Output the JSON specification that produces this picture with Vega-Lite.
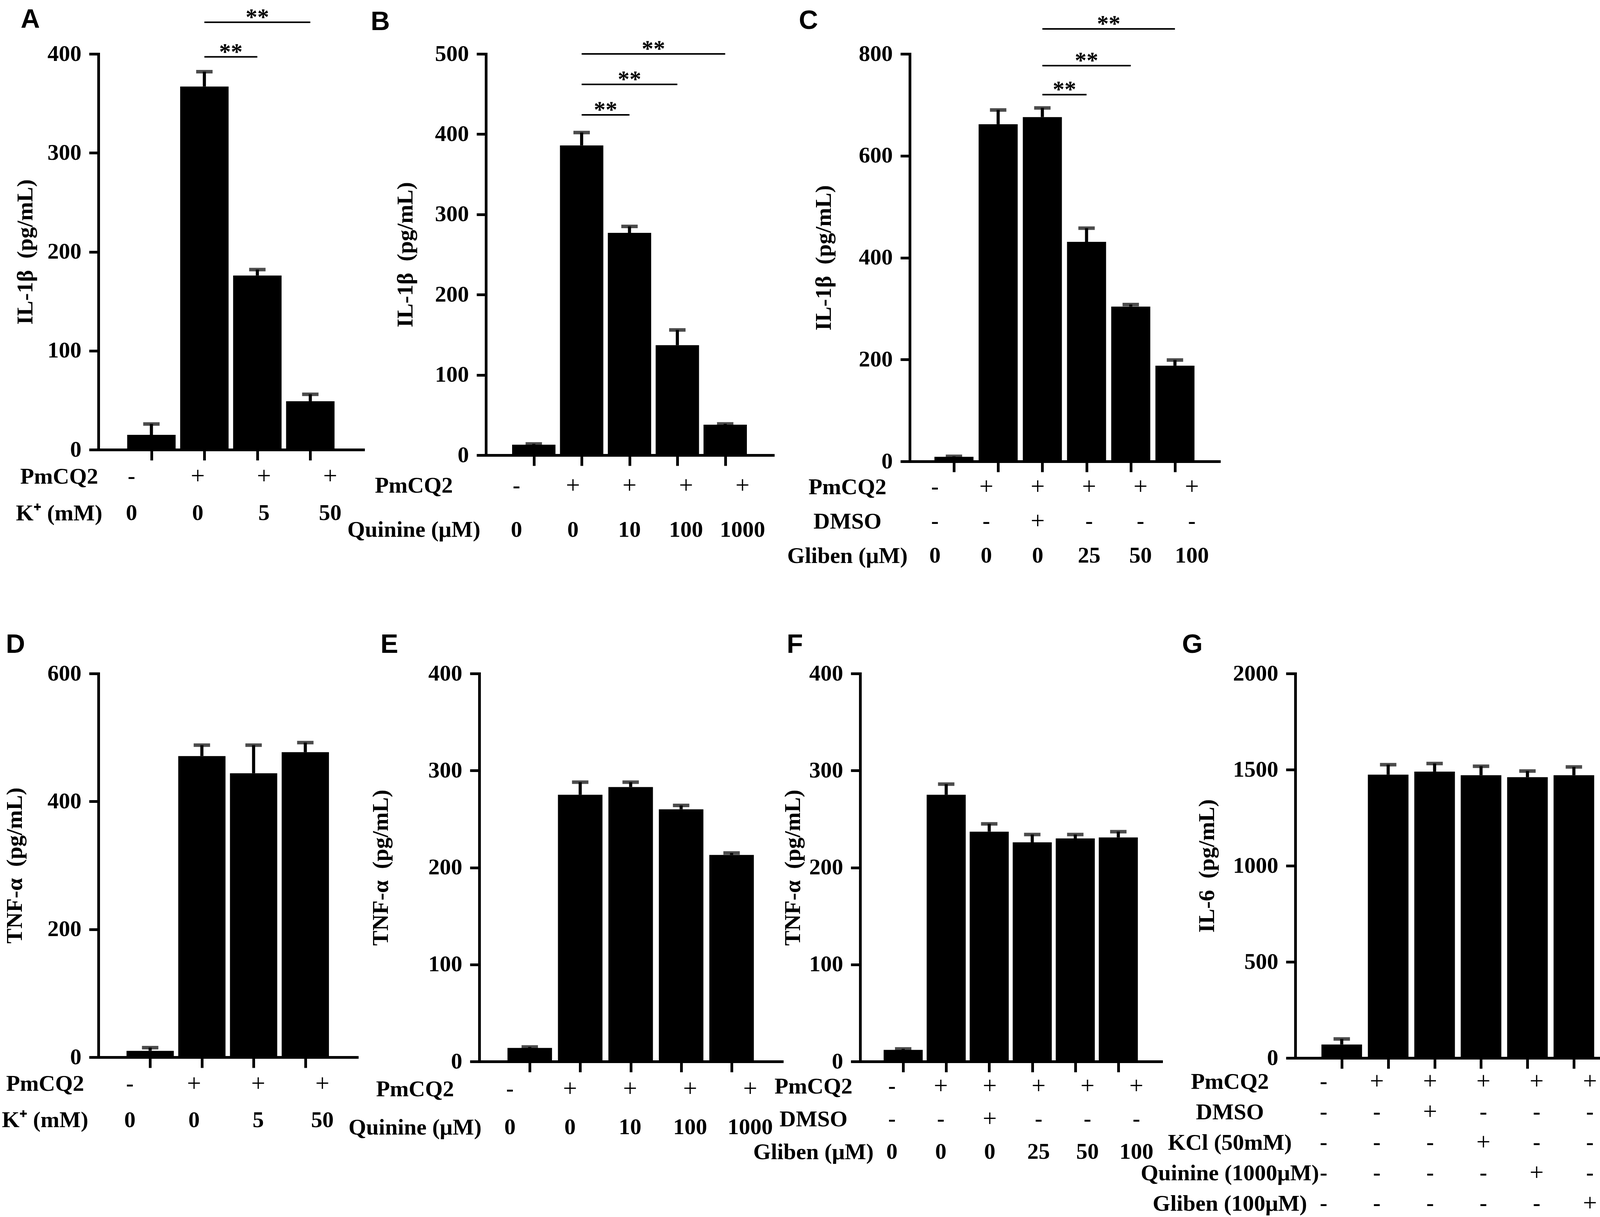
{
  "$schema": "https://vega.github.io/schema/vega-lite/v6.json",
  "background": "white",
  "padding": {"left": 4, "top": 14, "right": 0, "bottom": 0},
  "datasets": {
    "bars": [
      {"panel": "A", "pos": 1, "mean": 15, "upper": 26},
      {"panel": "A", "pos": 2, "mean": 367, "upper": 382},
      {"panel": "A", "pos": 3, "mean": 176, "upper": 182},
      {"panel": "A", "pos": 4, "mean": 49, "upper": 56},
      {"panel": "B", "pos": 1, "mean": 13, "upper": 14},
      {"panel": "B", "pos": 2, "mean": 386, "upper": 402},
      {"panel": "B", "pos": 3, "mean": 277, "upper": 285},
      {"panel": "B", "pos": 4, "mean": 137, "upper": 156},
      {"panel": "B", "pos": 5, "mean": 38, "upper": 39},
      {"panel": "C", "pos": 1, "mean": 9, "upper": 10},
      {"panel": "C", "pos": 2, "mean": 662, "upper": 690},
      {"panel": "C", "pos": 3, "mean": 676, "upper": 694},
      {"panel": "C", "pos": 4, "mean": 431, "upper": 458},
      {"panel": "C", "pos": 5, "mean": 304, "upper": 308},
      {"panel": "C", "pos": 6, "mean": 188, "upper": 199},
      {"panel": "D", "pos": 1, "mean": 10, "upper": 15},
      {"panel": "D", "pos": 2, "mean": 471, "upper": 488},
      {"panel": "D", "pos": 3, "mean": 444, "upper": 488},
      {"panel": "D", "pos": 4, "mean": 477, "upper": 492},
      {"panel": "E", "pos": 1, "mean": 14, "upper": 15},
      {"panel": "E", "pos": 2, "mean": 275, "upper": 288},
      {"panel": "E", "pos": 3, "mean": 283, "upper": 288},
      {"panel": "E", "pos": 4, "mean": 260, "upper": 264},
      {"panel": "E", "pos": 5, "mean": 213, "upper": 215},
      {"panel": "F", "pos": 1, "mean": 12, "upper": 13},
      {"panel": "F", "pos": 2, "mean": 275, "upper": 286},
      {"panel": "F", "pos": 3, "mean": 237, "upper": 245},
      {"panel": "F", "pos": 4, "mean": 226, "upper": 234},
      {"panel": "F", "pos": 5, "mean": 230, "upper": 234},
      {"panel": "F", "pos": 6, "mean": 231, "upper": 237},
      {"panel": "G", "pos": 1, "mean": 70, "upper": 99},
      {"panel": "G", "pos": 2, "mean": 1474, "upper": 1526},
      {"panel": "G", "pos": 3, "mean": 1490, "upper": 1532},
      {"panel": "G", "pos": 4, "mean": 1471, "upper": 1518},
      {"panel": "G", "pos": 5, "mean": 1461, "upper": 1493},
      {"panel": "G", "pos": 6, "mean": 1471, "upper": 1514}
    ],
    "sig": [
      {"panel": "A", "from": 2, "to": 3, "level": 397},
      {"panel": "A", "from": 2, "to": 4, "level": 432},
      {"panel": "B", "from": 2, "to": 3, "level": 424},
      {"panel": "B", "from": 2, "to": 4, "level": 462},
      {"panel": "B", "from": 2, "to": 5, "level": 500},
      {"panel": "C", "from": 3, "to": 4, "level": 720},
      {"panel": "C", "from": 3, "to": 5, "level": 777},
      {"panel": "C", "from": 3, "to": 6, "level": 849}
    ],
    "tbl": [
      {"panel": "A", "row": "PmCQ2", "pos": 1, "val": "-"},
      {"panel": "A", "row": "PmCQ2", "pos": 2, "val": "+"},
      {"panel": "A", "row": "PmCQ2", "pos": 3, "val": "+"},
      {"panel": "A", "row": "PmCQ2", "pos": 4, "val": "+"},
      {"panel": "A", "row": "K⁺ (mM)", "pos": 1, "val": "0"},
      {"panel": "A", "row": "K⁺ (mM)", "pos": 2, "val": "0"},
      {"panel": "A", "row": "K⁺ (mM)", "pos": 3, "val": "5"},
      {"panel": "A", "row": "K⁺ (mM)", "pos": 4, "val": "50"},
      {"panel": "B", "row": "PmCQ2", "pos": 1, "val": "-"},
      {"panel": "B", "row": "PmCQ2", "pos": 2, "val": "+"},
      {"panel": "B", "row": "PmCQ2", "pos": 3, "val": "+"},
      {"panel": "B", "row": "PmCQ2", "pos": 4, "val": "+"},
      {"panel": "B", "row": "PmCQ2", "pos": 5, "val": "+"},
      {"panel": "B", "row": "Quinine (μM)", "pos": 1, "val": "0"},
      {"panel": "B", "row": "Quinine (μM)", "pos": 2, "val": "0"},
      {"panel": "B", "row": "Quinine (μM)", "pos": 3, "val": "10"},
      {"panel": "B", "row": "Quinine (μM)", "pos": 4, "val": "100"},
      {"panel": "B", "row": "Quinine (μM)", "pos": 5, "val": "1000"},
      {"panel": "C", "row": "PmCQ2", "pos": 1, "val": "-"},
      {"panel": "C", "row": "PmCQ2", "pos": 2, "val": "+"},
      {"panel": "C", "row": "PmCQ2", "pos": 3, "val": "+"},
      {"panel": "C", "row": "PmCQ2", "pos": 4, "val": "+"},
      {"panel": "C", "row": "PmCQ2", "pos": 5, "val": "+"},
      {"panel": "C", "row": "PmCQ2", "pos": 6, "val": "+"},
      {"panel": "C", "row": "DMSO", "pos": 1, "val": "-"},
      {"panel": "C", "row": "DMSO", "pos": 2, "val": "-"},
      {"panel": "C", "row": "DMSO", "pos": 3, "val": "+"},
      {"panel": "C", "row": "DMSO", "pos": 4, "val": "-"},
      {"panel": "C", "row": "DMSO", "pos": 5, "val": "-"},
      {"panel": "C", "row": "DMSO", "pos": 6, "val": "-"},
      {"panel": "C", "row": "Gliben (μM)", "pos": 1, "val": "0"},
      {"panel": "C", "row": "Gliben (μM)", "pos": 2, "val": "0"},
      {"panel": "C", "row": "Gliben (μM)", "pos": 3, "val": "0"},
      {"panel": "C", "row": "Gliben (μM)", "pos": 4, "val": "25"},
      {"panel": "C", "row": "Gliben (μM)", "pos": 5, "val": "50"},
      {"panel": "C", "row": "Gliben (μM)", "pos": 6, "val": "100"},
      {"panel": "D", "row": "PmCQ2", "pos": 1, "val": "-"},
      {"panel": "D", "row": "PmCQ2", "pos": 2, "val": "+"},
      {"panel": "D", "row": "PmCQ2", "pos": 3, "val": "+"},
      {"panel": "D", "row": "PmCQ2", "pos": 4, "val": "+"},
      {"panel": "D", "row": "K⁺ (mM)", "pos": 1, "val": "0"},
      {"panel": "D", "row": "K⁺ (mM)", "pos": 2, "val": "0"},
      {"panel": "D", "row": "K⁺ (mM)", "pos": 3, "val": "5"},
      {"panel": "D", "row": "K⁺ (mM)", "pos": 4, "val": "50"},
      {"panel": "E", "row": "PmCQ2", "pos": 1, "val": "-"},
      {"panel": "E", "row": "PmCQ2", "pos": 2, "val": "+"},
      {"panel": "E", "row": "PmCQ2", "pos": 3, "val": "+"},
      {"panel": "E", "row": "PmCQ2", "pos": 4, "val": "+"},
      {"panel": "E", "row": "PmCQ2", "pos": 5, "val": "+"},
      {"panel": "E", "row": "Quinine (μM)", "pos": 1, "val": "0"},
      {"panel": "E", "row": "Quinine (μM)", "pos": 2, "val": "0"},
      {"panel": "E", "row": "Quinine (μM)", "pos": 3, "val": "10"},
      {"panel": "E", "row": "Quinine (μM)", "pos": 4, "val": "100"},
      {"panel": "E", "row": "Quinine (μM)", "pos": 5, "val": "1000"},
      {"panel": "F", "row": "PmCQ2", "pos": 1, "val": "-"},
      {"panel": "F", "row": "PmCQ2", "pos": 2, "val": "+"},
      {"panel": "F", "row": "PmCQ2", "pos": 3, "val": "+"},
      {"panel": "F", "row": "PmCQ2", "pos": 4, "val": "+"},
      {"panel": "F", "row": "PmCQ2", "pos": 5, "val": "+"},
      {"panel": "F", "row": "PmCQ2", "pos": 6, "val": "+"},
      {"panel": "F", "row": "DMSO", "pos": 1, "val": "-"},
      {"panel": "F", "row": "DMSO", "pos": 2, "val": "-"},
      {"panel": "F", "row": "DMSO", "pos": 3, "val": "+"},
      {"panel": "F", "row": "DMSO", "pos": 4, "val": "-"},
      {"panel": "F", "row": "DMSO", "pos": 5, "val": "-"},
      {"panel": "F", "row": "DMSO", "pos": 6, "val": "-"},
      {"panel": "F", "row": "Gliben (μM)", "pos": 1, "val": "0"},
      {"panel": "F", "row": "Gliben (μM)", "pos": 2, "val": "0"},
      {"panel": "F", "row": "Gliben (μM)", "pos": 3, "val": "0"},
      {"panel": "F", "row": "Gliben (μM)", "pos": 4, "val": "25"},
      {"panel": "F", "row": "Gliben (μM)", "pos": 5, "val": "50"},
      {"panel": "F", "row": "Gliben (μM)", "pos": 6, "val": "100"},
      {"panel": "G", "row": "PmCQ2", "pos": 1, "val": "-"},
      {"panel": "G", "row": "PmCQ2", "pos": 2, "val": "+"},
      {"panel": "G", "row": "PmCQ2", "pos": 3, "val": "+"},
      {"panel": "G", "row": "PmCQ2", "pos": 4, "val": "+"},
      {"panel": "G", "row": "PmCQ2", "pos": 5, "val": "+"},
      {"panel": "G", "row": "PmCQ2", "pos": 6, "val": "+"},
      {"panel": "G", "row": "DMSO", "pos": 1, "val": "-"},
      {"panel": "G", "row": "DMSO", "pos": 2, "val": "-"},
      {"panel": "G", "row": "DMSO", "pos": 3, "val": "+"},
      {"panel": "G", "row": "DMSO", "pos": 4, "val": "-"},
      {"panel": "G", "row": "DMSO", "pos": 5, "val": "-"},
      {"panel": "G", "row": "DMSO", "pos": 6, "val": "-"},
      {"panel": "G", "row": "KCl (50mM)", "pos": 1, "val": "-"},
      {"panel": "G", "row": "KCl (50mM)", "pos": 2, "val": "-"},
      {"panel": "G", "row": "KCl (50mM)", "pos": 3, "val": "-"},
      {"panel": "G", "row": "KCl (50mM)", "pos": 4, "val": "+"},
      {"panel": "G", "row": "KCl (50mM)", "pos": 5, "val": "-"},
      {"panel": "G", "row": "KCl (50mM)", "pos": 6, "val": "-"},
      {"panel": "G", "row": "Quinine (1000μM)", "pos": 1, "val": "-"},
      {"panel": "G", "row": "Quinine (1000μM)", "pos": 2, "val": "-"},
      {"panel": "G", "row": "Quinine (1000μM)", "pos": 3, "val": "-"},
      {"panel": "G", "row": "Quinine (1000μM)", "pos": 4, "val": "-"},
      {"panel": "G", "row": "Quinine (1000μM)", "pos": 5, "val": "+"},
      {"panel": "G", "row": "Quinine (1000μM)", "pos": 6, "val": "-"},
      {"panel": "G", "row": "Gliben (100μM)", "pos": 1, "val": "-"},
      {"panel": "G", "row": "Gliben (100μM)", "pos": 2, "val": "-"},
      {"panel": "G", "row": "Gliben (100μM)", "pos": 3, "val": "-"},
      {"panel": "G", "row": "Gliben (100μM)", "pos": 4, "val": "-"},
      {"panel": "G", "row": "Gliben (100μM)", "pos": 5, "val": "-"},
      {"panel": "G", "row": "Gliben (100μM)", "pos": 6, "val": "+"}
    ]
  },
  "align": "each",
  "spacing": 150,
  "vconcat": [
    {
      "align": "each",
      "spacing": 35,
      "hconcat": [
        {
          "align": "each",
          "spacing": -42,
          "hconcat": [
            {
              "align": "each", "bounds": "flush", "spacing": 22,
              "vconcat": [
                {
                  "width": 678, "height": 1013,
                  "title": {"text": "A", "offset": -70, "dx": 17},
                  "layer": [
                    {"data": {"name": "bars"}, "transform": [{"filter": "datum.panel === 'A'"}],
                     "mark": {"type": "bar", "color": "black", "size": 124},
                     "encoding": {
                       "x": {"field": "pos", "type": "quantitative", "scale": {"domain": [0.5, 4.5]}, "axis": {"values": [1, 2, 3, 4], "labels": false, "title": null}},
                       "y": {"field": "mean", "type": "quantitative", "scale": {"domain": [0, 400], "nice": false}, "axis": {"values": [0, 100, 200, 300, 400], "title": "IL-1β\u00a0\u00a0(pg/mL)", "titlePadding": 27}}
                     }},
                    {"data": {"name": "bars"}, "transform": [{"filter": "datum.panel === 'A'"}],
                     "mark": {"type": "rule", "color": "black", "strokeWidth": 8},
                     "encoding": {"x": {"field": "pos", "type": "quantitative"}, "y": {"field": "mean", "type": "quantitative"}, "y2": {"field": "upper"}}},
                    {"data": {"name": "bars"}, "transform": [{"filter": "datum.panel === 'A'"}],
                     "mark": {"type": "tick", "orient": "horizontal", "color": "black", "size": 42, "thickness": 9},
                     "encoding": {"x": {"field": "pos", "type": "quantitative"}, "y": {"field": "upper", "type": "quantitative"}}},
                    {"data": {"name": "sig"}, "transform": [{"filter": "datum.panel === 'A'"}],
                     "mark": {"type": "rule", "color": "black", "strokeWidth": 4},
                     "encoding": {"x": {"field": "from", "type": "quantitative"}, "x2": {"field": "to"}, "y": {"field": "level", "type": "quantitative"}}},
                    {"data": {"name": "sig"}, "transform": [{"filter": "datum.panel === 'A'"}, {"calculate": "(datum.from + datum.to) / 2", "as": "mid"}],
                     "mark": {"type": "text", "text": "**", "font": "Liberation Serif", "fontWeight": "bold", "fontSize": 60, "baseline": "alphabetic", "dy": 6},
                     "encoding": {"x": {"field": "mid", "type": "quantitative"}, "y": {"field": "level", "type": "quantitative"}}}
                  ]
                },
                {
                  "width": 678, "height": 188,
                  "data": {"name": "tbl"}, "transform": [{"filter": "datum.panel === 'A'"}],
                  "encoding": {
                    "x": {"field": "pos", "type": "quantitative", "scale": {"domain": [0.5, 4.5]}, "axis": null},
                    "y": {"field": "row", "type": "nominal", "sort": ["PmCQ2", "K⁺ (mM)"], "scale": {"type": "point", "padding": 0.5}, "axis": {"title": null, "domain": false, "ticks": false, "labelAlign": "center", "labelPadding": 101, "labelFontSize": 58, "labelLimit": 0}},
                    "text": {"field": "val"}
                  },
                  "layer": [
                    {"transform": [{"filter": "datum.val !== '+'"}], "mark": {"type": "text", "font": "Liberation Serif", "fontWeight": "bold", "fontSize": 58, "baseline": "middle"}},
                    {"transform": [{"filter": "datum.val === '+'"}], "mark": {"type": "text", "font": "Liberation Serif", "fontWeight": "normal", "fontSize": 64, "baseline": "middle"}}
                  ]
                }
              ]
            },
            {
              "align": "each", "bounds": "flush", "spacing": 22,
              "vconcat": [
                {
                  "width": 735, "height": 1027,
                  "title": {"text": "B", "offset": 5, "dx": -60},
                  "layer": [
                    {"data": {"name": "bars"}, "transform": [{"filter": "datum.panel === 'B'"}],
                     "mark": {"type": "bar", "color": "black", "size": 111},
                     "encoding": {
                       "x": {"field": "pos", "type": "quantitative", "scale": {"domain": [0.46, 5.54]}, "axis": {"values": [1, 2, 3, 4, 5], "labels": false, "title": null}},
                       "y": {"field": "mean", "type": "quantitative", "scale": {"domain": [0, 500], "nice": false}, "axis": {"values": [0, 100, 200, 300, 400, 500], "title": "IL-1β\u00a0\u00a0(pg/mL)", "titlePadding": 46}}
                     }},
                    {"data": {"name": "bars"}, "transform": [{"filter": "datum.panel === 'B'"}],
                     "mark": {"type": "rule", "color": "black", "strokeWidth": 8},
                     "encoding": {"x": {"field": "pos", "type": "quantitative"}, "y": {"field": "mean", "type": "quantitative"}, "y2": {"field": "upper"}}},
                    {"data": {"name": "bars"}, "transform": [{"filter": "datum.panel === 'B'"}],
                     "mark": {"type": "tick", "orient": "horizontal", "color": "black", "size": 42, "thickness": 9},
                     "encoding": {"x": {"field": "pos", "type": "quantitative"}, "y": {"field": "upper", "type": "quantitative"}}},
                    {"data": {"name": "sig"}, "transform": [{"filter": "datum.panel === 'B'"}],
                     "mark": {"type": "rule", "color": "black", "strokeWidth": 4},
                     "encoding": {"x": {"field": "from", "type": "quantitative"}, "x2": {"field": "to"}, "y": {"field": "level", "type": "quantitative"}}},
                    {"data": {"name": "sig"}, "transform": [{"filter": "datum.panel === 'B'"}, {"calculate": "(datum.from + datum.to) / 2", "as": "mid"}],
                     "mark": {"type": "text", "text": "**", "font": "Liberation Serif", "fontWeight": "bold", "fontSize": 60, "baseline": "alphabetic", "dy": 6},
                     "encoding": {"x": {"field": "mid", "type": "quantitative"}, "y": {"field": "level", "type": "quantitative"}}}
                  ]
                },
                {
                  "width": 735, "height": 226,
                  "data": {"name": "tbl"}, "transform": [{"filter": "datum.panel === 'B'"}],
                  "encoding": {
                    "x": {"field": "pos", "type": "quantitative", "scale": {"domain": [0.46, 5.54]}, "axis": null},
                    "y": {"field": "row", "type": "nominal", "sort": ["PmCQ2", "Quinine (μM)"], "scale": {"type": "point", "padding": 0.5}, "axis": {"title": null, "domain": false, "ticks": false, "labelAlign": "center", "labelPadding": 185, "labelFontSize": 58, "labelLimit": 0}},
                    "text": {"field": "val"}
                  },
                  "layer": [
                    {"transform": [{"filter": "datum.val !== '+'"}], "mark": {"type": "text", "font": "Liberation Serif", "fontWeight": "bold", "fontSize": 58, "baseline": "middle"}},
                    {"transform": [{"filter": "datum.val === '+'"}], "mark": {"type": "text", "font": "Liberation Serif", "fontWeight": "normal", "fontSize": 64, "baseline": "middle"}}
                  ]
                }
              ]
            }
          ]
        },
        {
          "align": "each", "bounds": "flush", "spacing": 22,
          "vconcat": [
            {
              "width": 792, "height": 1043,
              "title": {"text": "C", "offset": -56, "dx": -35},
              "layer": [
                {"data": {"name": "bars"}, "transform": [{"filter": "datum.panel === 'C'"}],
                 "mark": {"type": "bar", "color": "black", "size": 100},
                 "encoding": {
                   "x": {"field": "pos", "type": "quantitative", "scale": {"domain": [0.51, 6.53]}, "axis": {"values": [1, 2, 3, 4, 5, 6], "labels": false, "title": null}},
                   "y": {"field": "mean", "type": "quantitative", "scale": {"domain": [0, 800], "nice": false}, "axis": {"values": [0, 200, 400, 600, 800], "title": "IL-1β\u00a0\u00a0(pg/mL)", "titlePadding": 60}}
                 }},
                {"data": {"name": "bars"}, "transform": [{"filter": "datum.panel === 'C'"}],
                 "mark": {"type": "rule", "color": "black", "strokeWidth": 8},
                 "encoding": {"x": {"field": "pos", "type": "quantitative"}, "y": {"field": "mean", "type": "quantitative"}, "y2": {"field": "upper"}}},
                {"data": {"name": "bars"}, "transform": [{"filter": "datum.panel === 'C'"}],
                 "mark": {"type": "tick", "orient": "horizontal", "color": "black", "size": 42, "thickness": 9},
                 "encoding": {"x": {"field": "pos", "type": "quantitative"}, "y": {"field": "upper", "type": "quantitative"}}},
                {"data": {"name": "sig"}, "transform": [{"filter": "datum.panel === 'C'"}],
                 "mark": {"type": "rule", "color": "black", "strokeWidth": 4},
                 "encoding": {"x": {"field": "from", "type": "quantitative"}, "x2": {"field": "to"}, "y": {"field": "level", "type": "quantitative"}}},
                {"data": {"name": "sig"}, "transform": [{"filter": "datum.panel === 'C'"}, {"calculate": "(datum.from + datum.to) / 2", "as": "mid"}],
                 "mark": {"type": "text", "text": "**", "font": "Liberation Serif", "fontWeight": "bold", "fontSize": 60, "baseline": "alphabetic", "dy": 6},
                 "encoding": {"x": {"field": "mid", "type": "quantitative"}, "y": {"field": "level", "type": "quantitative"}}}
              ]
            },
            {
              "width": 792, "height": 264,
              "data": {"name": "tbl"}, "transform": [{"filter": "datum.panel === 'C'"}],
              "encoding": {
                "x": {"field": "pos", "type": "quantitative", "scale": {"domain": [0.51, 6.53]}, "axis": null},
                "y": {"field": "row", "type": "nominal", "sort": ["PmCQ2", "DMSO", "Gliben (μM)"], "scale": {"type": "point", "padding": 0.5}, "axis": {"title": null, "domain": false, "ticks": false, "labelAlign": "center", "labelPadding": 160, "labelFontSize": 58, "labelLimit": 0}},
                "text": {"field": "val"}
              },
              "layer": [
                {"transform": [{"filter": "datum.val !== '+'"}], "mark": {"type": "text", "font": "Liberation Serif", "fontWeight": "bold", "fontSize": 58, "baseline": "middle"}},
                {"transform": [{"filter": "datum.val === '+'"}], "mark": {"type": "text", "font": "Liberation Serif", "fontWeight": "normal", "fontSize": 64, "baseline": "middle"}}
              ]
            }
          ]
        }
      ]
    },
    {
      "align": "each",
      "spacing": -54,
      "hconcat": [
        {
          "align": "each",
          "spacing": -75,
          "hconcat": [
            {
              "align": "each",
              "spacing": -23,
              "hconcat": [
                {
                  "align": "each", "bounds": "flush", "spacing": 22,
                  "vconcat": [
                    {
                      "width": 662, "height": 982,
                      "title": {"text": "D", "offset": 10, "dx": 6},
                      "layer": [
                        {"data": {"name": "bars"}, "transform": [{"filter": "datum.panel === 'D'"}],
                         "mark": {"type": "bar", "color": "black", "size": 121},
                         "encoding": {
                           "x": {"field": "pos", "type": "quantitative", "scale": {"domain": [0.51, 4.54]}, "axis": {"values": [1, 2, 3, 4], "labels": false, "title": null}},
                           "y": {"field": "mean", "type": "quantitative", "scale": {"domain": [0, 600], "nice": false}, "axis": {"values": [0, 200, 400, 600], "title": "TNF-α\u00a0\u00a0(pg/mL)", "titlePadding": 54}}
                         }},
                        {"data": {"name": "bars"}, "transform": [{"filter": "datum.panel === 'D'"}],
                         "mark": {"type": "rule", "color": "black", "strokeWidth": 8},
                         "encoding": {"x": {"field": "pos", "type": "quantitative"}, "y": {"field": "mean", "type": "quantitative"}, "y2": {"field": "upper"}}},
                        {"data": {"name": "bars"}, "transform": [{"filter": "datum.panel === 'D'"}],
                         "mark": {"type": "tick", "orient": "horizontal", "color": "black", "size": 42, "thickness": 9},
                         "encoding": {"x": {"field": "pos", "type": "quantitative"}, "y": {"field": "upper", "type": "quantitative"}}}
                      ]
                    },
                    {
                      "width": 662, "height": 186,
                      "data": {"name": "tbl"}, "transform": [{"filter": "datum.panel === 'D'"}],
                      "encoding": {
                        "x": {"field": "pos", "type": "quantitative", "scale": {"domain": [0.51, 4.54]}, "axis": null},
                        "y": {"field": "row", "type": "nominal", "sort": ["PmCQ2", "K⁺ (mM)"], "scale": {"type": "point", "padding": 0.5}, "axis": {"title": null, "domain": false, "ticks": false, "labelAlign": "center", "labelPadding": 137, "labelFontSize": 58, "labelLimit": 0}},
                        "text": {"field": "val"}
                      },
                      "layer": [
                        {"transform": [{"filter": "datum.val !== '+'"}], "mark": {"type": "text", "font": "Liberation Serif", "fontWeight": "bold", "fontSize": 58, "baseline": "middle"}},
                        {"transform": [{"filter": "datum.val === '+'"}], "mark": {"type": "text", "font": "Liberation Serif", "fontWeight": "normal", "fontSize": 64, "baseline": "middle"}}
                      ]
                    }
                  ]
                },
                {
                  "align": "each", "bounds": "flush", "spacing": 22,
                  "vconcat": [
                    {
                      "width": 775, "height": 993,
                      "title": {"text": "E", "offset": 10, "dx": 28},
                      "layer": [
                        {"data": {"name": "bars"}, "transform": [{"filter": "datum.panel === 'E'"}],
                         "mark": {"type": "bar", "color": "black", "size": 114},
                         "encoding": {
                           "x": {"field": "pos", "type": "quantitative", "scale": {"domain": [0.49, 5.53]}, "axis": {"values": [1, 2, 3, 4, 5], "labels": false, "title": null}},
                           "y": {"field": "mean", "type": "quantitative", "scale": {"domain": [0, 400], "nice": false}, "axis": {"values": [0, 100, 200, 300, 400], "title": "TNF-α\u00a0\u00a0(pg/mL)", "titlePadding": 92}}
                         }},
                        {"data": {"name": "bars"}, "transform": [{"filter": "datum.panel === 'E'"}],
                         "mark": {"type": "rule", "color": "black", "strokeWidth": 8},
                         "encoding": {"x": {"field": "pos", "type": "quantitative"}, "y": {"field": "mean", "type": "quantitative"}, "y2": {"field": "upper"}}},
                        {"data": {"name": "bars"}, "transform": [{"filter": "datum.panel === 'E'"}],
                         "mark": {"type": "tick", "orient": "horizontal", "color": "black", "size": 42, "thickness": 9},
                         "encoding": {"x": {"field": "pos", "type": "quantitative"}, "y": {"field": "upper", "type": "quantitative"}}}
                      ]
                    },
                    {
                      "width": 775, "height": 196,
                      "data": {"name": "tbl"}, "transform": [{"filter": "datum.panel === 'E'"}],
                      "encoding": {
                        "x": {"field": "pos", "type": "quantitative", "scale": {"domain": [0.49, 5.53]}, "axis": null},
                        "y": {"field": "row", "type": "nominal", "sort": ["PmCQ2", "Quinine (μM)"], "scale": {"type": "point", "padding": 0.5}, "axis": {"title": null, "domain": false, "ticks": false, "labelAlign": "center", "labelPadding": 165, "labelFontSize": 58, "labelLimit": 0}},
                        "text": {"field": "val"}
                      },
                      "layer": [
                        {"transform": [{"filter": "datum.val !== '+'"}], "mark": {"type": "text", "font": "Liberation Serif", "fontWeight": "bold", "fontSize": 58, "baseline": "middle"}},
                        {"transform": [{"filter": "datum.val === '+'"}], "mark": {"type": "text", "font": "Liberation Serif", "fontWeight": "normal", "fontSize": 64, "baseline": "middle"}}
                      ]
                    }
                  ]
                }
              ]
            },
            {
              "align": "each", "bounds": "flush", "spacing": 22,
              "vconcat": [
                {
                  "width": 771, "height": 993,
                  "title": {"text": "F", "offset": 10, "dx": 13},
                  "layer": [
                    {"data": {"name": "bars"}, "transform": [{"filter": "datum.panel === 'F'"}],
                     "mark": {"type": "bar", "color": "black", "size": 100},
                     "encoding": {
                       "x": {"field": "pos", "type": "quantitative", "scale": {"domain": [0.35, 6.51]}, "axis": {"values": [1, 2, 3, 4, 5, 6], "labels": false, "title": null}},
                       "y": {"field": "mean", "type": "quantitative", "scale": {"domain": [0, 400], "nice": false}, "axis": {"values": [0, 100, 200, 300, 400], "title": "TNF-α\u00a0\u00a0(pg/mL)", "titlePadding": 12}}
                     }},
                    {"data": {"name": "bars"}, "transform": [{"filter": "datum.panel === 'F'"}],
                     "mark": {"type": "rule", "color": "black", "strokeWidth": 8},
                     "encoding": {"x": {"field": "pos", "type": "quantitative"}, "y": {"field": "mean", "type": "quantitative"}, "y2": {"field": "upper"}}},
                    {"data": {"name": "bars"}, "transform": [{"filter": "datum.panel === 'F'"}],
                     "mark": {"type": "tick", "orient": "horizontal", "color": "black", "size": 42, "thickness": 9},
                     "encoding": {"x": {"field": "pos", "type": "quantitative"}, "y": {"field": "upper", "type": "quantitative"}}}
                  ]
                },
                {
                  "width": 771, "height": 252,
                  "data": {"name": "tbl"}, "transform": [{"filter": "datum.panel === 'F'"}],
                  "encoding": {
                    "x": {"field": "pos", "type": "quantitative", "scale": {"domain": [0.35, 6.51]}, "axis": null},
                    "y": {"field": "row", "type": "nominal", "sort": ["PmCQ2", "DMSO", "Gliben (μM)"], "scale": {"type": "point", "padding": 0.5}, "axis": {"title": null, "domain": false, "ticks": false, "labelAlign": "center", "labelPadding": 120, "labelFontSize": 58, "labelLimit": 0}},
                    "text": {"field": "val"}
                  },
                  "layer": [
                    {"transform": [{"filter": "datum.val !== '+'"}], "mark": {"type": "text", "font": "Liberation Serif", "fontWeight": "bold", "fontSize": 58, "baseline": "middle"}},
                    {"transform": [{"filter": "datum.val === '+'"}], "mark": {"type": "text", "font": "Liberation Serif", "fontWeight": "normal", "fontSize": 64, "baseline": "middle"}}
                  ]
                }
              ]
            }
          ]
        },
        {
          "align": "each", "bounds": "flush", "spacing": 22,
          "vconcat": [
            {
              "width": 832, "height": 984,
              "title": {"text": "G", "offset": 10, "dx": -35},
              "layer": [
                {"data": {"name": "bars"}, "transform": [{"filter": "datum.panel === 'G'"}],
                 "mark": {"type": "bar", "color": "black", "size": 104},
                 "encoding": {
                   "x": {"field": "pos", "type": "quantitative", "scale": {"domain": [0.47, 6.57]}, "axis": {"values": [1, 2, 3, 4, 5, 6], "labels": false, "title": null}},
                   "y": {"field": "mean", "type": "quantitative", "scale": {"domain": [0, 2000], "nice": false}, "axis": {"values": [0, 500, 1000, 1500, 2000], "format": "d", "title": "IL-6\u00a0\u00a0(pg/mL)", "titlePadding": 37}}
                 }},
                {"data": {"name": "bars"}, "transform": [{"filter": "datum.panel === 'G'"}],
                 "mark": {"type": "rule", "color": "black", "strokeWidth": 8},
                 "encoding": {"x": {"field": "pos", "type": "quantitative"}, "y": {"field": "mean", "type": "quantitative"}, "y2": {"field": "upper"}}},
                {"data": {"name": "bars"}, "transform": [{"filter": "datum.panel === 'G'"}],
                 "mark": {"type": "tick", "orient": "horizontal", "color": "black", "size": 42, "thickness": 9},
                 "encoding": {"x": {"field": "pos", "type": "quantitative"}, "y": {"field": "upper", "type": "quantitative"}}}
              ]
            },
            {
              "width": 832, "height": 390,
              "data": {"name": "tbl"}, "transform": [{"filter": "datum.panel === 'G'"}],
              "encoding": {
                "x": {"field": "pos", "type": "quantitative", "scale": {"domain": [0.47, 6.57]}, "axis": null},
                "y": {"field": "row", "type": "nominal", "sort": ["PmCQ2", "DMSO", "KCl (50mM)", "Quinine (1000μM)", "Gliben (100μM)"], "scale": {"type": "point", "padding": 0.5}, "axis": {"title": null, "domain": false, "ticks": false, "labelAlign": "center", "labelPadding": 168, "labelFontSize": 58, "labelLimit": 0}},
                "text": {"field": "val"}
              },
              "layer": [
                {"transform": [{"filter": "datum.val !== '+'"}], "mark": {"type": "text", "font": "Liberation Serif", "fontWeight": "bold", "fontSize": 58, "baseline": "middle"}},
                {"transform": [{"filter": "datum.val === '+'"}], "mark": {"type": "text", "font": "Liberation Serif", "fontWeight": "normal", "fontSize": 64, "baseline": "middle"}}
              ]
            }
          ]
        }
      ]
    }
  ],
  "config": {
    "view": {"stroke": null},
    "title": {"anchor": "start", "frame": "bounds", "font": "Liberation Sans", "fontSize": 68, "fontWeight": "bold", "color": "black"},
    "axis": {
      "grid": false,
      "domainColor": "black", "domainWidth": 7, "domainCap": "square",
      "tickColor": "black", "tickWidth": 7, "tickSize": 24,
      "labelColor": "black", "labelFont": "Liberation Serif", "labelFontWeight": "bold", "labelFontSize": 58, "labelPadding": 20,
      "titleColor": "black", "titleFont": "Liberation Serif", "titleFontWeight": "bold", "titleFontSize": 58, "titlePadding": 48
    },
    "axisX": {"tickSize": 27}
  }
}
